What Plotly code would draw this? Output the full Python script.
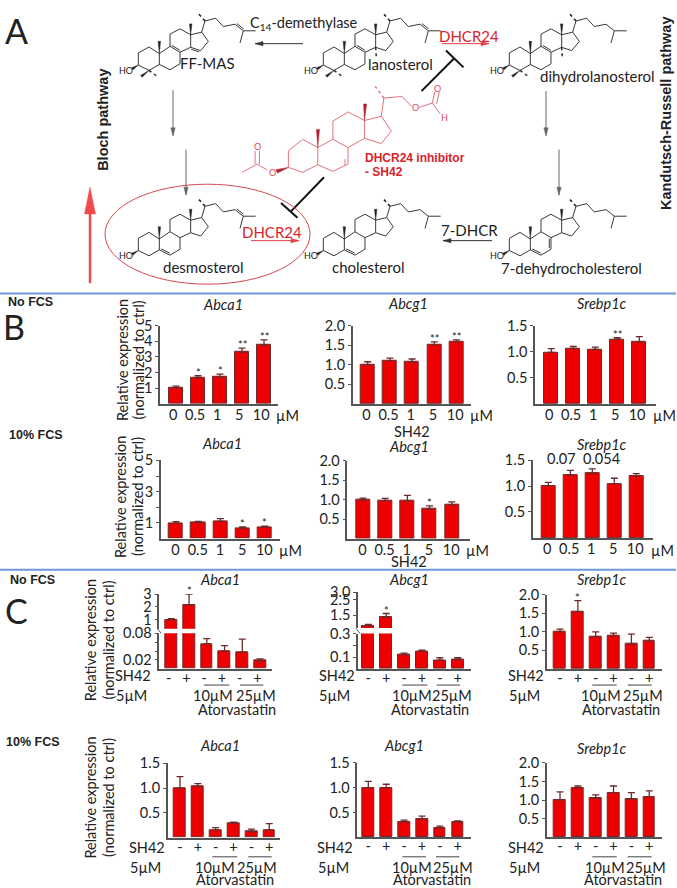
import plotly.graph_objects as go

# ---------- data: panel B ----------
dose_labels = ["0", "0.5", "1", "5", "10"]
sh42_labels = ["-", "+", "-", "+", "-", "+"]

b_nofcs_abca1 = [1.0, 1.65, 1.7, 3.3, 3.75]
b_nofcs_abca1_err = [0.12, 0.14, 0.2, 0.27, 0.35]
b_nofcs_abca1_star = ["", "*", "*", "**", "**"]
b_nofcs_abcg1 = [1.0, 1.11, 1.07, 1.52, 1.59]
b_nofcs_abcg1_err = [0.08, 0.06, 0.08, 0.07, 0.05]
b_nofcs_abcg1_star = ["", "", "", "**", "**"]
b_nofcs_srebp = [0.99, 1.065, 1.045, 1.24, 1.185]
b_nofcs_srebp_err = [0.07, 0.04, 0.045, 0.03, 0.105]
b_nofcs_srebp_star = ["", "", "", "**", ""]

b_fcs_abca1 = [0.97, 1.01, 1.1, 0.65, 0.72]
b_fcs_abca1_err = [0.11, 0.09, 0.17, 0.09, 0.08]
b_fcs_abca1_star = ["", "", "", "*", "*"]
b_fcs_abcg1 = [0.99, 0.975, 0.966, 0.76, 0.865]
b_fcs_abcg1_err = [0.05, 0.055, 0.145, 0.08, 0.075]
b_fcs_abcg1_star = ["", "", "", "*", ""]
b_fcs_srebp = [1.0, 1.21, 1.24, 1.04, 1.19]
b_fcs_srebp_err = [0.07, 0.09, 0.09, 0.11, 0.05]
b_fcs_srebp_star = ["", "", "", "", ""]

# ---------- data: panel C ----------
c_nofcs_abca1 = [1.0, 2.15, 0.056, 0.04, 0.037, 0.018]
c_nofcs_abca1_err = [0.07, 0.85, 0.012, 0.012, 0.03, 0.0045]
c_nofcs_abca1_star = ["", "*", "", "", "", ""]
c_nofcs_abcg1 = [0.83, 1.37, 0.12, 0.15, 0.075, 0.08]
c_nofcs_abcg1_err = [0.09, 0.25, 0.015, 0.01, 0.02, 0.015]
c_nofcs_abcg1_star = ["", "*", "", "", "", ""]
c_nofcs_srebp = [1.0, 1.54, 0.87, 0.89, 0.67, 0.75]
c_nofcs_srebp_err = [0.07, 0.3, 0.13, 0.075, 0.27, 0.1]
c_nofcs_srebp_star = ["", "*", "", "", "", ""]

c_fcs_abca1 = [1.0, 1.03, 0.155, 0.285, 0.12, 0.155]
c_fcs_abca1_err = [0.23, 0.06, 0.045, 0.025, 0.05, 0.125]
c_fcs_abcg1 = [1.0, 1.0, 0.305, 0.365, 0.19, 0.305]
c_fcs_abcg1_err = [0.13, 0.07, 0.04, 0.06, 0.035, 0.025]
c_fcs_srebp = [1.0, 1.33, 1.05, 1.2, 1.03, 1.09]
c_fcs_srebp_err = [0.22, 0.05, 0.09, 0.18, 0.17, 0.16]
no_star = ["", "", "", "", "", ""]

# ---------- styles ----------
W, H = 677, 888
FONT = "Lato"
BOLD = "Liberation Sans"
TXT = "#222222"
RED = "#ee0000"
EDGE = "#6e2a2a"
AXC = "#555555"
MOL = "#222222"
PINK = "#e2727c"

def fx(x): return x / W
def fy(y): return 1 - y / H

shapes, annos = [], []

def text(x, y, s, size=14.5, color=TXT, font=FONT, bold=False, angle=0, anchor="center"):
    annos.append(dict(x=fx(x), y=fy(y), xref="paper", yref="paper", text=f"<b>{s}</b>" if bold else s,
                      showarrow=False, xanchor=anchor, yanchor="middle", textangle=angle,
                      font=dict(family=font, size=size, color=color)))

def line(x0, y0, x1, y1, color=MOL, width=1.0, dash="solid"):
    shapes.append(dict(type="line", xref="paper", yref="paper", x0=fx(x0), y0=fy(y0), x1=fx(x1), y1=fy(y1),
                       line=dict(color=color, width=width, dash=dash)))

def poly(pts, color):
    d = "M" + " L".join(f"{fx(x):.5f},{fy(y):.5f}" for x, y in pts) + " Z"
    shapes.append(dict(type="path", path=d, xref="paper", yref="paper", fillcolor=color,
                       line=dict(color=color, width=0.5)))

def arrow(x0, y0, x1, y1, color="#333333", width=1.0, head=4.0):
    line(x0, y0, x1, y1, color, width)
    dx, dy = x1 - x0, y1 - y0
    n = (dx * dx + dy * dy) ** 0.5
    ux, uy = dx / n, dy / n
    bx, by = x1 - ux * head * 2, y1 - uy * head * 2
    poly([(x1, y1), (bx - uy * head * 0.55, by + ux * head * 0.55), (bx + uy * head * 0.55, by - ux * head * 0.55)], color)

# ---------- sterol drawing ----------
ATOM = dict(C1=(237,167), C2=(205,185), C3=(205,222), C4=(237,238), C5=(268,220), C6=(300,236), C7=(330,218),
            C8=(330,183), C9=(300,165), C10=(268,187), C11=(300,128), C12=(330,112), C13=(362,130), C14=(362,168),
            C15=(392,178), C16=(415,150), C17=(395,122), C20=(405,88), C21=(382,62), C22=(437,80), C23=(460,105),
            C24=(495,98), C25=(520,118), C26=(557,118), C27=(510,155), C18=(362,97), C19=(268,150))
BONDS = [("C1","C2"),("C2","C3"),("C3","C4"),("C4","C5"),("C5","C10"),("C10","C1"),("C5","C6"),("C6","C7"),("C7","C8"),
         ("C8","C9"),("C9","C10"),("C9","C11"),("C11","C12"),("C12","C13"),("C13","C14"),("C14","C8"),("C14","C15"),
         ("C15","C16"),("C16","C17"),("C17","C13"),("C17","C20"),("C20","C22"),("C22","C23"),("C23","C24"),
         ("C24","C25"),("C25","C26"),("C25","C27")]

def sterol(ox, oy, doubles, dimethyl=False, me14=False):
    P = lambda a: (a[0] / 3 + 70 + ox, a[1] / 3 + 170 + oy)
    d = ""
    for a, b in BONDS:
        x0, y0 = P(ATOM[a]); x1, y1 = P(ATOM[b])
        d += f"M{fx(x0):.5f},{fy(y0):.5f} L{fx(x1):.5f},{fy(y1):.5f} "
    for a, b, s in doubles:
        x0, y0 = P(ATOM[a]); x1, y1 = P(ATOM[b])
        ux, uy = x1 - x0, y1 - y0
        n = (ux * ux + uy * uy) ** 0.5
        px, py = -uy / n * 1.7 * s, ux / n * 1.7 * s
        x0b, y0b, x1b, y1b = x0 + px + ux * .1, y0 + py + uy * .1, x1 + px - ux * .1, y1 + py - uy * .1
        d += f"M{fx(x0b):.5f},{fy(y0b):.5f} L{fx(x1b):.5f},{fy(y1b):.5f} "
    shapes.append(dict(type="path", path=d, xref="paper", yref="paper", line=dict(color=MOL, width=0.9)))
    def wedge(a, b):
        x0, y0 = P(a); x1, y1 = P(b)
        ux, uy = x1 - x0, y1 - y0
        n = (ux * ux + uy * uy) ** 0.5
        poly([(x0, y0), (x1 - uy / n * 1.2, y1 + ux / n * 1.2), (x1 + uy / n * 1.2, y1 - ux / n * 1.2)], MOL)
    wedge(ATOM["C10"], ATOM["C19"])
    wedge(ATOM["C13"], ATOM["C18"])
    wedge(ATOM["C3"], (187, 233))
    x0, y0 = P(ATOM["C20"]); x1, y1 = P(ATOM["C21"])
    line(x0, y0, x1, y1, MOL, 1.6, "dot")
    if dimethyl:
        wedge(ATOM["C4"], (214, 256))
        x0, y0 = P(ATOM["C4"]); x1, y1 = P((264, 258))
        line(x0, y0, x1, y1, MOL, 1.4, "dot")
    if me14:
        x0, y0 = P(ATOM["C14"]); x1, y1 = P((364, 200))
        line(x0, y0, x1, y1, MOL, 1.4, "dot")
    x, y = P((167, 237))
    text(x, y, "HO", size=9, font=FONT)

TOP = -187.3
sterol(0, 0, [("C5","C6",-1), ("C24","C25",-1)])
sterol(185, 0, [("C5","C6",-1)])
sterol(371, 0, [("C5","C6",-1), ("C7","C8",-1)])
sterol(0, TOP, [("C8","C9",1), ("C14","C15",1), ("C24","C25",-1)], dimethyl=True)
sterol(185, TOP, [("C8","C9",1), ("C24","C25",-1)], dimethyl=True, me14=True)
sterol(371, TOP, [("C8","C9",1)], dimethyl=True, me14=True)

# SH42 (red)
Z = lambda x, y: (x / 2.313, y / 3)
red_paths = [[(667,480),(667,430),(700,395),(735,420),(735,472),(700,495),(667,480)],
             [(735,420),(770,395),(805,420),(805,470),(770,492),(735,472)],
             [(770,395),(770,340),(805,312),(843,338),(843,392),(805,420)],
             [(843,338),(882,325),(905,370),(882,408),(843,392)],
             [(882,325),(888,270),(930,265),(952,295)],
             [(970,298),(1000,285),(1018,318)],
             [(1000,285),(1006,250)], [(1010,287),(1016,252)],
             [(618,488),(595,470),(560,495)],
             [(590,470),(590,430)], [(600,470),(600,430)],
             [(798,455),(798,475)]]
for p in red_paths:
    for a, b in zip(p[:-1], p[1:]):
        line(*Z(*a), *Z(*b), color=PINK, width=1)
line(*Z(888,270), *Z(868,235), color=PINK, width=1.5, dash="dot")
poly([Z(735,420), Z(732,365), Z(739,365)], "#b02030")
poly([Z(843,338), Z(841,288), Z(848,288)], "#b02030")
poly([Z(667,480), Z(638,487), Z(642,497)], "#b02030")
for (x, y, s) in [(960,300,"O"), (1012,240,"O"), (1027,330,"H"), (630,497,"O"), (595,418,"O")]:
    zx, zy = Z(x, y)
    text(zx, zy, s, size=9, color="#d84a55")

# ---------- scheme labels & arrows ----------
text(16, 22, "A", size=34)
text(14, 321, "B", size=34)
text(16, 608, "C", size=34)
text(207, 55, "FF-MAS", size=15)
text(304, 15, "C<sub>14</sub>-demethylase", size=14.5)
text(400, 56, "lanosterol", size=15)
text(597, 68, "dihydrolanosterol", size=15)
text(469, 27, "DHCR24", size=15, color="#d8242c")
text(203, 261, "desmosterol", size=15)
text(368, 261, "cholesterol", size=15)
text(571, 262, "7-dehydrocholesterol", size=15)
text(272, 225, "DHCR24", size=15, color="#d8242c")
text(469, 223, "7-DHCR", size=15)
text(363, 151, "DHCR24 inhibitor", size=12, color="#d8242c", font=BOLD, bold=True, anchor="left")
text(363, 165, "- SH42", size=12, color="#d8242c", font=BOLD, bold=True, anchor="left")
text(103, 112, "Bloch pathway", size=14.5, font=BOLD, bold=True, angle=-90)
text(666, 106, "Kandutsch-Russell pathway", size=14.5, font=BOLD, bold=True, angle=-90)
arrow(303, 35, 255, 35)
arrow(442, 35, 489, 35, color="#e0404a")
arrow(251, 234, 299, 234, color="#e0404a")
arrow(492, 234, 443, 234)
arrow(173, 82, 173, 128, color="#666666")
arrow(186, 142, 186, 188, color="#666666")
arrow(546, 83, 546, 128, color="#666666")
arrow(559, 142, 559, 188, color="#666666")
line(421.5, 83, 454, 50, "#111111", 2)
line(446, 42, 463.5, 59, "#111111", 2)
line(324, 170, 290.5, 205, "#111111", 2)
line(281, 196, 297.5, 211, "#111111", 2)
shapes.append(dict(type="circle", xref="paper", yref="paper", x0=fx(105), x1=fx(310), y0=fy(177), y1=fy(278),
                   line=dict(color="#d8484f", width=1)))
line(90, 277, 90, 200, "#f04a4a", 2.5)
poly([(90, 180), (84.5, 207), (95.5, 207)], "#f04a4a")
line(0, 287.5, 676, 287.5, "#6e98d8", 2)
line(0, 566.5, 676, 566.5, "#6e98d8", 2)

text(6, 296, "No FCS", size=12.5, font=BOLD, bold=True, anchor="left")
text(7, 430, "10% FCS", size=12.5, font=BOLD, bold=True, anchor="left")
text(8, 577, "No FCS", size=12.5, font=BOLD, bold=True, anchor="left")
text(4, 740, "10% FCS", size=12.5, font=BOLD, bold=True, anchor="left")

# ---------- chart panels ----------
fig = go.Figure()
layout = {}
axis_n = [0]

def tick_fmt(v, yr):
    if yr[1] <= 0.08:
        return f"{v:.2f}"
    if yr[1] == 5 or (yr[1] == 3.0 and yr[0] == 0.3):
        return f"{v:g}"
    return f"{v:.1f}"

def panel(vals, errs, stars, labels, left, right, base, top, c0, dx, w, yrange, yticks, minor, shift=0.0,
          base2=None, top2=None, yrange2=None, yticks2=None):
    xv = list(range(len(vals)))
    parts = [(base, top, yrange, yticks, minor, True)]
    if base2 is not None:
        parts.append((base2, top2, yrange2, yticks2, [], False))
    for (b, t, yr, tv, mn, first) in parts:
        axis_n[0] += 1
        n = axis_n[0]
        sx = "" if n == 1 else str(n)
        fig.add_trace(go.Bar(x=xv, y=vals, width=w / dx, xaxis=f"x{sx}", yaxis=f"y{sx}",
                             marker=dict(color=RED, line=dict(color=EDGE, width=1)),
                             error_y=dict(type="data", symmetric=False, array=errs, arrayminus=[0] * len(errs),
                                          color=EDGE, thickness=1.3, width=3.5),
                             showlegend=False))
        layout[f"xaxis{sx}"] = dict(domain=[fx(left), fx(right)], range=[(left - c0) / dx, (right - c0) / dx],
                                    anchor=f"y{sx}", showgrid=False, zeroline=False, showline=first, linecolor=AXC, linewidth=1.5,
                                    tickmode="array", tickvals=[i + shift for i in xv] if first else [],
                                    ticktext=labels if first else [], ticks="", visible=first,
                                    ticklabelstandoff=-5 if len(vals) == 6 else -3,
                                    tickfont=dict(family=FONT, size=14.5, color=TXT))
        layout[f"yaxis{sx}"] = dict(domain=[fy(b), fy(t)], range=yr, anchor=f"x{sx}", showgrid=False, zeroline=False,
                                    showline=True, linecolor=AXC, linewidth=1.5, ticks="outside", ticklen=3, tickcolor=AXC,
                                    tickwidth=1, tickmode="array", tickvals=tv, ticktext=[tick_fmt(v, yr) for v in tv],
                                    tickfont=dict(family=FONT, size=14.5, color=TXT),
                                    minor=dict(tickmode="array", tickvals=mn, ticks="outside", ticklen=3, tickcolor=AXC, tickwidth=1) if mn else None)
        for i, s in enumerate(stars):
            if s and yr[0] <= vals[i] <= yr[1]:
                annos.append(dict(x=i, y=vals[i] + errs[i], xref=f"x{sx}", yref=f"y{sx}", text=s, showarrow=False,
                                  yanchor="bottom", yshift=-5, font=dict(family=FONT, size=11, color=TXT)))

HALF2 = [0.5, 1.0, 1.5, 2.0]
HALF15 = [0.5, 1.0, 1.5]

panel(b_nofcs_abca1, b_nofcs_abca1_err, b_nofcs_abca1_star, dose_labels, 160, 278, 398.7, 320, 176, 22, 14.3, [0, 5], [1,2,3,4,5], [], -0.13)
panel(b_nofcs_abcg1, b_nofcs_abcg1_err, b_nofcs_abcg1_star, dose_labels, 352.7, 471, 399, 320, 367.7, 22.2, 14, [0, 2], HALF2, [], -0.06)
panel(b_nofcs_srebp, b_nofcs_srebp_err, b_nofcs_srebp_star, dose_labels, 535, 656, 399, 320, 551.3, 22, 14, [0, 1.5], HALF15, [], -0.1)
panel(b_fcs_abca1, b_fcs_abca1_err, b_fcs_abca1_star, dose_labels, 160.7, 280, 535, 456, 176, 22.2, 14.3, [0, 5], [1,3,5], [2,4], -0.02)
panel(b_fcs_abcg1, b_fcs_abcg1_err, b_fcs_abcg1_star, dose_labels, 347.3, 470, 535, 456.3, 363, 22.2, 14, [0, 2], HALF2, [], -0.03)
panel(b_fcs_srebp, b_fcs_srebp_err, b_fcs_srebp_star, dose_labels, 532.7, 653.3, 534.3, 455.7, 548.3, 22, 14, [0, 1.5], HALF15, [], -0.05)

panel(c_nofcs_abca1, c_nofcs_abca1_err, c_nofcs_abca1_star, sh42_labels, 159.3, 271.7, 666.5, 630.7, 171.3, 17.75, 11.7,
      [0, 0.08], [0.02, 0.08], [0.04, 0.06], -0.15,
      base2=626, top2=591, yrange2=[0.3, 3.0], yticks2=[1, 2, 3])
panel(c_nofcs_abcg1, c_nofcs_abcg1_err, c_nofcs_abcg1_star, sh42_labels, 358, 470.7, 666.7, 631, 368.3, 17.9, 11.7,
      [0, 0.3], [0.1, 0.3], [0.2], 0,
      base2=625.3, top2=589, yrange2=[0.69, 3.0], yticks2=[1.5, 2.5, 3.0])
panel(c_nofcs_srebp, c_nofcs_srebp_err, c_nofcs_srebp_star, sh42_labels, 546.7, 661.7, 666.7, 591.7, 560, 17.85, 11.7, [0, 2], HALF2, [], 0)
panel(c_fcs_abca1, c_fcs_abca1_err, no_star, sh42_labels, 167.7, 280, 837, 762, 180, 17.85, 11.7, [0, 1.5], HALF15, [], 0)
panel(c_fcs_abcg1, c_fcs_abcg1_err, no_star, sh42_labels, 357.3, 470.7, 836.7, 761.7, 368.3, 17.9, 11.7, [0, 1.5], HALF15, [], 0)
panel(c_fcs_srebp, c_fcs_srebp_err, no_star, sh42_labels, 546.7, 661.7, 836.7, 761.7, 560, 17.85, 11.7, [0, 2], HALF2, [], 0)

# axis break squiggles
for (x, y) in [(159.3, 628.3), (358, 628.2)]:
    line(x - 2, y - 2.5, x + 2, y + 2.5, AXC, 1)

# ---------- panel texts ----------
for (x, y, s) in [(223, 299, "Abca1"), (408, 298, "Abcg1"), (602, 298, "Srebp1c"),
                  (222, 439, "Abca1"), (409, 442, "Abcg1"), (602, 440, "Srebp1c"),
                  (220, 576, "Abca1"), (409, 576, "Abcg1"), (602, 576, "Srebp1c"),
                  (220, 744, "Abca1"), (404, 744, "Abcg1"), (602, 747, "Srebp1c")]:
    text(x, y, f"<i>{s}</i>", size=14.5)

for (x1, x2, y) in [(122.7, 138, 355), (120, 137, 493), (90.7, 109, 638), (90.7, 109, 797)]:
    text(x1, y, "Relative expression", size=14.5, angle=-90)
    text(x2, y, "(normalized to ctrl)", size=14.5, angle=-90)

for (x, y) in [(287, 411), (481.7, 411), (664, 411), (290, 547), (477, 547), (662.7, 547)]:
    text(x, y, "µM", size=14.5)
text(411.7, 427, "SH42", size=14.5)
text(409, 558, "SH42", size=14.5)
text(561, 454, "0.07", size=14.5)
text(601.7, 454, "0.054", size=14.5)

rows = [(673.5, 694, 707.7, 683, [(133, 131.7, 213, 256, 237, (204, 229.3), (240, 263.3)),
                                 (337, 334, 411.7, 452.3, 430, (402.3, 427.3), (436.7, 460)),
                                 (526, 524.3, 600.7, 642.7, 620.7, (592.3, 616.7), (627.7, 651.7))]),
        (846.7, 867, 879, 856.5, [(146.7, 145, 215, 256.7, 235, (212.3, 237.3), (248.3, 271.7)),
                                 (335, 333.5, 411.7, 453.3, 431.7, (402.3, 426), (436, 459.3)),
                                 (526, 524.3, 605, 646, 623.3, (592.3, 616.7), (627.7, 651.7))])]
for (y1, y2, y3, yl, cols) in rows:
    for (sx, mx, a, b, at, l1, l2) in cols:
        text(sx, y1, "SH42", size=14.5)
        text(mx, y2, "5µM", size=14.5)
        text(a, y2, "10µM", size=14.5)
        text(b, y2, "25µM", size=14.5)
        text(at, y3, "Atorvastatin", size=14.5)
        line(l1[0], yl, l1[1], yl, "#444444", 1)
        line(l2[0], yl, l2[1], yl, "#444444", 1)

fig.update_layout(width=W, height=H, margin=dict(l=0, r=0, t=0, b=0), plot_bgcolor="white", paper_bgcolor="white",
                  shapes=shapes, annotations=annos, bargap=0, **layout)
fig.write_html("out.html", include_plotlyjs=True, config={"displayModeBar": False},
               post_script="document.body.style.margin='0';document.documentElement.style.overflow='hidden';")
